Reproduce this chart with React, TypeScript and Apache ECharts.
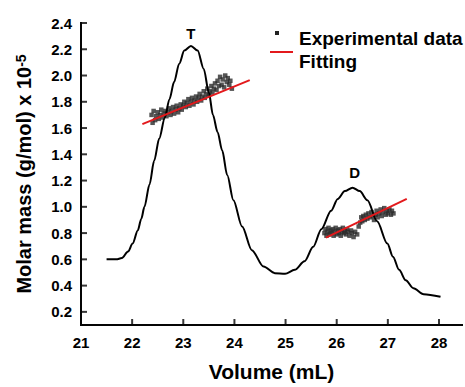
import { useEffect, useRef } from 'react';
import * as echarts from 'echarts';

// Chromatogram (elution profile) curve
const curveX = [21.5, 21.69, 21.8, 21.92, 22.01, 22.11, 22.18, 22.24, 22.34, 22.43, 22.53, 22.64, 22.73, 22.82, 22.92, 23.02, 23.15, 23.28, 23.4, 23.5, 23.58, 23.67, 23.76, 23.86, 23.98, 24.15, 24.34, 24.57, 24.79, 24.99, 25.18, 25.37, 25.54, 25.7, 25.89, 26.02, 26.16, 26.31, 26.45, 26.6, 26.79, 26.99, 27.1, 27.22, 27.35, 27.5, 27.7, 28.03];
const curveY = [0.6, 0.6, 0.61, 0.66, 0.72, 0.82, 0.91, 1.0, 1.17, 1.35, 1.52, 1.68, 1.82, 1.95, 2.09, 2.19, 2.225, 2.19, 2.05, 1.87, 1.7, 1.57, 1.43, 1.24, 1.05, 0.85, 0.67, 0.545, 0.495, 0.49, 0.52, 0.585, 0.695, 0.83, 0.97, 1.06, 1.12, 1.146, 1.12, 1.05, 0.89, 0.72, 0.62, 0.52, 0.44, 0.38, 0.335, 0.315];

// Experimental molar mass points, T peak
const tX = [22.38, 22.4, 22.42, 22.45, 22.47, 22.5, 22.52, 22.55, 22.57, 22.6, 22.62, 22.65, 22.67, 22.7, 22.72, 22.75, 22.77, 22.8, 22.82, 22.85, 22.87, 22.9, 22.92, 22.95, 22.97, 23.0, 23.02, 23.05, 23.07, 23.1, 23.12, 23.15, 23.17, 23.2, 23.22, 23.25, 23.27, 23.3, 23.32, 23.35, 23.37, 23.4, 23.42, 23.45, 23.47, 23.5, 23.52, 23.55, 23.57, 23.6, 23.62, 23.65, 23.67, 23.7, 23.72, 23.75, 23.77, 23.8, 23.82, 23.85, 23.87, 23.9, 23.92, 23.95];
const tY = [1.7, 1.64, 1.73, 1.66, 1.69, 1.72, 1.67, 1.7, 1.74, 1.68, 1.71, 1.73, 1.69, 1.72, 1.75, 1.7, 1.73, 1.76, 1.71, 1.74, 1.77, 1.72, 1.75, 1.78, 1.74, 1.77, 1.8, 1.76, 1.79, 1.82, 1.77, 1.8, 1.83, 1.78, 1.81, 1.84, 1.8, 1.83, 1.86, 1.81, 1.84, 1.88, 1.83, 1.86, 1.9, 1.85, 1.88, 1.92, 1.87, 1.9, 1.94, 1.89, 1.96, 1.92, 1.99, 1.93, 1.97, 1.91, 2.0, 1.95, 1.98, 1.93, 1.96, 1.9];

// Experimental molar mass points, D peak
const dX = [25.76, 25.78, 25.8, 25.82, 25.84, 25.86, 25.88, 25.9, 25.92, 25.94, 25.96, 25.98, 26.0, 26.02, 26.04, 26.06, 26.08, 26.1, 26.12, 26.14, 26.16, 26.18, 26.2, 26.22, 26.25, 26.28, 26.3, 26.33, 26.36, 26.4, 26.43, 26.46, 26.48, 26.5, 26.52, 26.55, 26.57, 26.6, 26.62, 26.65, 26.68, 26.7, 26.73, 26.76, 26.78, 26.8, 26.83, 26.86, 26.88, 26.9, 26.93, 26.96, 26.98, 27.0, 27.03, 27.06, 27.08, 27.11];
const dY = [0.8, 0.83, 0.78, 0.81, 0.84, 0.79, 0.82, 0.8, 0.83, 0.78, 0.81, 0.84, 0.79, 0.82, 0.8, 0.83, 0.78, 0.81, 0.84, 0.8, 0.82, 0.79, 0.83, 0.81, 0.78, 0.82, 0.8, 0.77, 0.81, 0.79, 0.85, 0.88, 0.92, 0.89, 0.93, 0.9, 0.94, 0.91, 0.95, 0.92, 0.96, 0.93, 0.9, 0.94, 0.97, 0.92, 0.95, 0.98, 0.93, 0.96, 0.99, 0.94, 0.97, 0.95, 0.98, 0.94, 0.97, 0.95];

// Linear fits
const fitTX = [22.2, 24.3];
const fitTY = [1.63, 1.965];
const fitDX = [25.79, 27.37];
const fitDY = [0.765, 1.06];

// Axes and ticks
const xMin = 21;
const xMax = 28.45;
const yMin = 0.1;
const yMax = 2.4;
const xTicks = [21, 22, 23, 24, 25, 26, 27, 28];
const yTicks = [0.2, 0.4, 0.6, 0.8, 1.0, 1.2, 1.4, 1.6, 1.8, 2.0, 2.2, 2.4];

// Peak labels
const peakNames = ['T', 'D'];
const peakX = [23.15, 26.35];
const peakY = [2.32, 1.26];

const FONT = "'Liberation Sans', Arial, Helvetica, sans-serif";

function zip(xs: number[], ys: number[]) {
  return xs.map((x, i) => [x, ys[i]]);
}

const isTick = (list: number[], v: number) => list.some((t) => Math.abs(t - v) < 1e-6);

export default function App() {
  const ref = useRef<HTMLDivElement>(null);
  useEffect(() => {
    if (!ref.current) return;
    const chart = echarts.init(ref.current, undefined, { renderer: 'svg' });
    const axisText = { color: '#000', fontFamily: FONT, fontWeight: 'bold' as const, fontSize: 15 };
    const axisLineSeries = (name: string, pts: number[][]) => ({
      name,
      type: 'line',
      data: pts,
      clip: false,
      silent: true,
      showSymbol: false,
      symbol: 'none',
      lineStyle: { color: '#050505', width: 2, cap: 'square' },
      z: 6,
    });
    chart.setOption({
      animation: false,
      backgroundColor: '#fff',
      grid: { left: 81, right: 0, top: 23, bottom: 58 },
      xAxis: {
        type: 'value',
        min: xMin,
        max: xMax,
        interval: 1,
        name: 'Volume (mL)',
        nameLocation: 'middle',
        nameGap: 36,
        nameTextStyle: { color: '#000', fontFamily: FONT, fontWeight: 'bold', fontSize: 21 },
        axisLine: { show: true, onZero: false, lineStyle: { color: '#000', width: 2 } },
        axisTick: { show: false },
        axisLabel: { ...axisText, margin: 10, formatter: (v: number) => (isTick(xTicks, v) ? String(v) : '') },
        splitLine: { show: false },
      },
      yAxis: {
        type: 'value',
        min: yMin,
        max: yMax,
        interval: 0.1,
        name: 'Molar mass (g/mol) x 10{sup|-5}',
        nameLocation: 'middle',
        nameGap: 47,
        nameTextStyle: {
          color: '#000', fontFamily: FONT, fontWeight: 'bold', fontSize: 20,
          rich: { sup: { fontSize: 14, fontWeight: 'bold', fontFamily: FONT, color: '#000', verticalAlign: 'top', lineHeight: 20 } },
        },
        axisLine: { show: true, onZero: false, lineStyle: { color: '#000', width: 2 } },
        axisTick: { show: false },
        axisLabel: { ...axisText, margin: 9, formatter: (v: number) => (isTick(yTicks, v) ? v.toFixed(1) : '') },
        splitLine: { show: false },
      },
      graphic: [
        { type: 'rect', left: 275, top: 31, shape: { width: 4, height: 4 }, style: { fill: '#222' } },
        { type: 'text', left: 299, top: 29, style: { text: 'Experimental data', fill: '#000', font: `bold 19px ${FONT}` } },
        { type: 'line', shape: { x1: 270, y1: 52, x2: 293, y2: 52 }, style: { stroke: '#e3191c', lineWidth: 2 } },
        { type: 'text', left: 299, top: 52, style: { text: 'Fitting', fill: '#000', font: `bold 19px ${FONT}` } },
      ],
      series: [
        axisLineSeries('x axis line', [[xMin, yMin], [xMax, yMin]]),
        axisLineSeries('y axis line', [[xMin, yMin], [xMin, yMax]]),
        {
          name: 'x ticks',
          type: 'scatter',
          data: xTicks.map((t) => [t, yMin]),
          clip: false,
          silent: true,
          symbol: 'rect',
          symbolSize: [2, 6],
          symbolOffset: [0, -3],
          itemStyle: { color: '#050505' },
          z: 6,
        },
        {
          name: 'y ticks',
          type: 'scatter',
          data: yTicks.map((t) => [xMin, t]),
          clip: false,
          silent: true,
          symbol: 'rect',
          symbolSize: [6, 2],
          symbolOffset: [3, 0],
          itemStyle: { color: '#050505' },
          z: 6,
        },
        {
          name: 'Elution profile',
          type: 'line',
          data: zip(curveX, curveY),
          smooth: 0.3,
          smoothMonotone: 'x',
          showSymbol: false,
          symbol: 'none',
          lineStyle: { color: '#000', width: 2 },
          z: 3,
          markPoint: {
            symbol: 'circle',
            symbolSize: 0,
            label: { show: true, position: 'inside', formatter: '{b}', color: '#000', fontFamily: FONT, fontWeight: 'bold', fontSize: 15 },
            data: peakNames.map((n, i) => ({ name: n, coord: [peakX[i], peakY[i]] })),
          },
        },
        {
          name: 'Experimental data',
          type: 'scatter',
          data: zip(tX, tY),
          symbol: 'rect',
          symbolSize: 4.5,
          itemStyle: { color: '#2b2b2b' },
          z: 2,
        },
        {
          name: 'Experimental data D',
          type: 'scatter',
          data: zip(dX, dY),
          symbol: 'rect',
          symbolSize: 4.5,
          itemStyle: { color: '#2b2b2b' },
          z: 2,
        },
        {
          name: 'Fitting',
          type: 'line',
          data: zip(fitTX, fitTY),
          showSymbol: false,
          symbol: 'none',
          lineStyle: { color: '#e3191c', width: 2 },
          z: 4,
        },
        {
          name: 'Fitting D',
          type: 'line',
          data: zip(fitDX, fitDY),
          showSymbol: false,
          symbol: 'none',
          lineStyle: { color: '#e3191c', width: 2 },
          z: 4,
        },
      ],
    });
    return () => chart.dispose();
  }, []);
  return <div ref={ref} style={{ position: 'fixed', left: 0, top: 0, width: 465, height: 387 }} />;
}
